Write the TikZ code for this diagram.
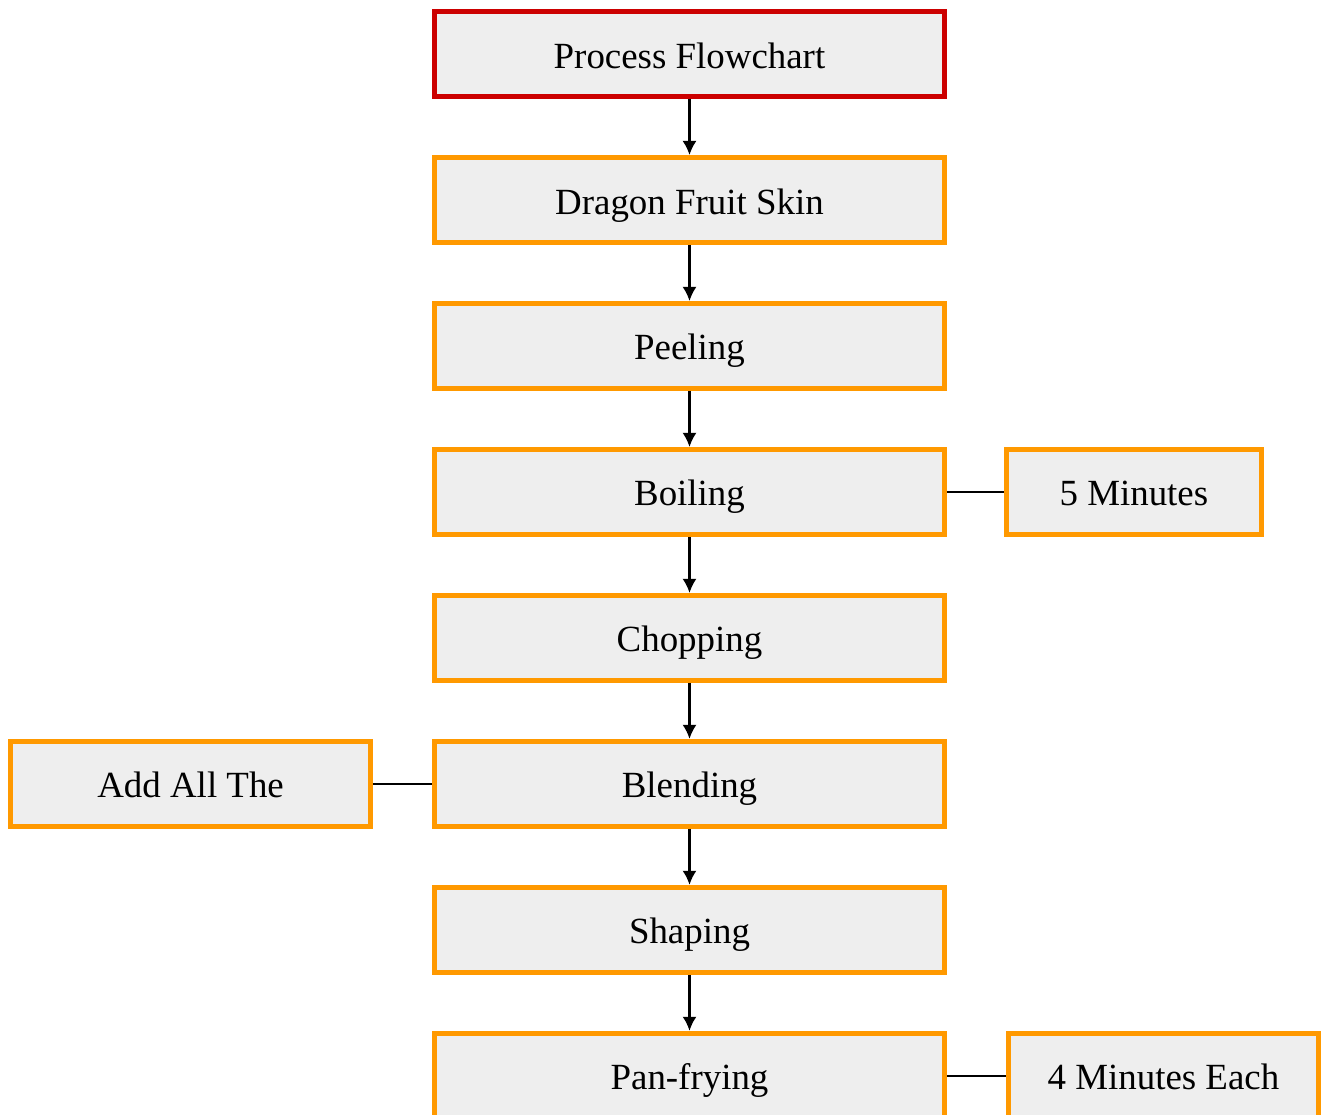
\documentclass[tikz,border=0pt]{standalone}
\usepackage{fontspec}
\setmainfont{Liberation Serif}
\usepackage{xcolor}
\usepackage{tikz}
\usetikzlibrary{positioning, arrows.meta}

\definecolor{boxfill}{HTML}{EEEEEE}
\definecolor{stepline}{HTML}{FF9900}
\definecolor{titleline}{HTML}{CC0000}

\tikzset{
    stepbox/.style={draw=stepline, fill=boxfill, line width=0.1cm,
        minimum width=10.2cm, minimum height=1.7cm, inner sep=0pt,
        text height=16pt, text depth=0pt,
        font=\fontsize{21}{25}\selectfont},
    titlebox/.style={stepbox, draw=titleline},
    sidebox/.style={stepbox, minimum width=#1},
    flow/.style={->, line width=1.2pt},
    link/.style={line width=1.2pt}
}

\begin{document}
\begin{tikzpicture}[>={Latex[length=8pt,width=8pt]}, x=0.02cm, y=0.02cm, node distance=1.12cm]
    \useasboundingbox (0,0) rectangle (1323,-1115);

    % Main column
    \node[titlebox] (title) at (689.5,-54) {Process Flowchart};
    \node[stepbox, below=of title] (skin) {Dragon Fruit Skin};
    \node[stepbox, below=of skin] (peel) {Peeling};
    \node[stepbox, below=of peel] (boil) {Boiling};
    \node[stepbox, below=of boil] (chop) {Chopping};
    \node[stepbox, below=of chop] (blend) {Blending};
    \node[stepbox, below=of blend] (shape) {Shaping};
    \node[stepbox, below=of shape] (fry) {Pan-frying};

    % Side notes
    \node[sidebox=5.1cm, right=1.14cm of boil] (boiltime) {5 Minutes};
    \node[sidebox=7.2cm, left=1.18cm of blend] (addall) {Add All The};
    \node[sidebox=6.2cm, right=1.18cm of fry] (frytime) {4 Minutes Each};

    % Arrows
    \draw[flow] (title) -- (skin);
    \draw[flow] (skin) -- (peel);
    \draw[flow] (peel) -- (boil);
    \draw[flow] (boil) -- (chop);
    \draw[flow] (chop) -- (blend);
    \draw[flow] (blend) -- (shape);
    \draw[flow] (shape) -- (fry);

    % Side links
    \draw[link] (boil) -- (boiltime);
    \draw[link] (addall) -- (blend);
    \draw[link] (fry) -- (frytime);
\end{tikzpicture}
\end{document}
